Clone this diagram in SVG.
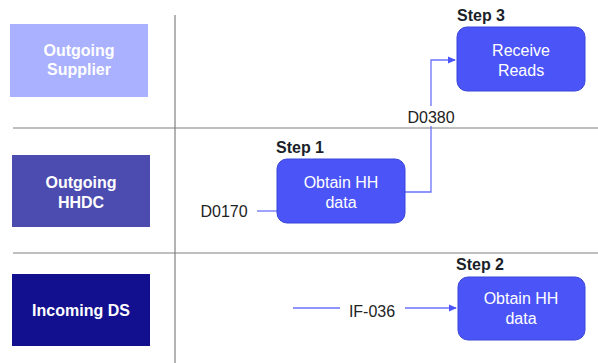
<svg xmlns="http://www.w3.org/2000/svg" width="598" height="363" viewBox="0 0 598 363">
<style>
.lane{font-family:"Liberation Sans",Arial,sans-serif;font-size:16px;font-weight:bold;fill:#ffffff;text-anchor:middle}
.box{fill:#4b55f7;stroke:#3a44d8;stroke-width:1}
.bt{font-family:"Liberation Sans",Arial,sans-serif;font-size:16px;fill:#ffffff;text-anchor:middle}
.step{font-family:"Liberation Sans",Arial,sans-serif;font-size:16px;font-weight:bold;fill:#1b1f2a}
.lbl{font-family:"Liberation Sans",Arial,sans-serif;font-size:16px;fill:#222;text-anchor:middle}
.grid{stroke:#808080;stroke-width:1.2;fill:none}
.conn{stroke:#6a72fa;stroke-width:1.3;fill:none}
</style>
<defs>
<marker id="arr" markerWidth="8" markerHeight="8" refX="7" refY="4" orient="auto" markerUnits="userSpaceOnUse">
<path d="M0,0.5 L8,4 L0,7.5 Z" fill="#4b55f7"/>
</marker>
</defs>
<rect width="598" height="363" fill="#ffffff"/>
<g id="grid">
<line class="grid" x1="175" y1="15" x2="175" y2="363"/>
<line class="grid" x1="13" y1="128" x2="598" y2="128"/>
<line class="grid" x1="13" y1="253" x2="598" y2="253"/>
</g>
<g id="lane-supplier">
<rect x="10" y="24" width="138" height="73" fill="#aab1fe"/>
<text class="lane" x="79" y="56">Outgoing</text>
<text class="lane" x="79" y="75">Supplier</text>
</g>
<g id="lane-hhdc">
<rect x="12" y="155" width="138" height="72" fill="#4b4bb0"/>
<text class="lane" x="81" y="188">Outgoing</text>
<text class="lane" x="81" y="208">HHDC</text>
</g>
<g id="lane-ds">
<rect x="12" y="274" width="138" height="72" fill="#12108f"/>
<text class="lane" x="81" y="316">Incoming DS</text>
</g>
<g id="connectors">
<line class="conn" x1="257" y1="211" x2="277" y2="211"/>
<polyline class="conn" points="405,192 431,192 431,126"/>
<polyline class="conn" points="431,106 431,60 455,60" marker-end="url(#arr)"/>
<line class="conn" x1="293" y1="308" x2="340" y2="308"/>
<line class="conn" x1="405" y1="308" x2="456" y2="308" marker-end="url(#arr)"/>
<text class="lbl" x="224" y="217">D0170</text>
<text class="lbl" x="431" y="123">D0380</text>
<text class="lbl" x="372" y="317">IF-036</text>
</g>
<g id="step1">
<text class="step" x="276" y="153">Step 1</text>
<rect class="box" x="277" y="159" width="128" height="64" rx="10"/>
<text class="bt" x="341" y="188">Obtain HH</text>
<text class="bt" x="341" y="208">data</text>
</g>
<g id="step3">
<text class="step" x="457" y="21">Step 3</text>
<rect class="box" x="457" y="27" width="128" height="64" rx="10"/>
<text class="bt" x="521" y="56">Receive</text>
<text class="bt" x="521" y="76">Reads</text>
</g>
<g id="step2">
<text class="step" x="456" y="270">Step 2</text>
<rect class="box" x="458" y="277" width="127" height="63" rx="10"/>
<text class="bt" x="521" y="304">Obtain HH</text>
<text class="bt" x="521" y="324">data</text>
</g>
</svg>
